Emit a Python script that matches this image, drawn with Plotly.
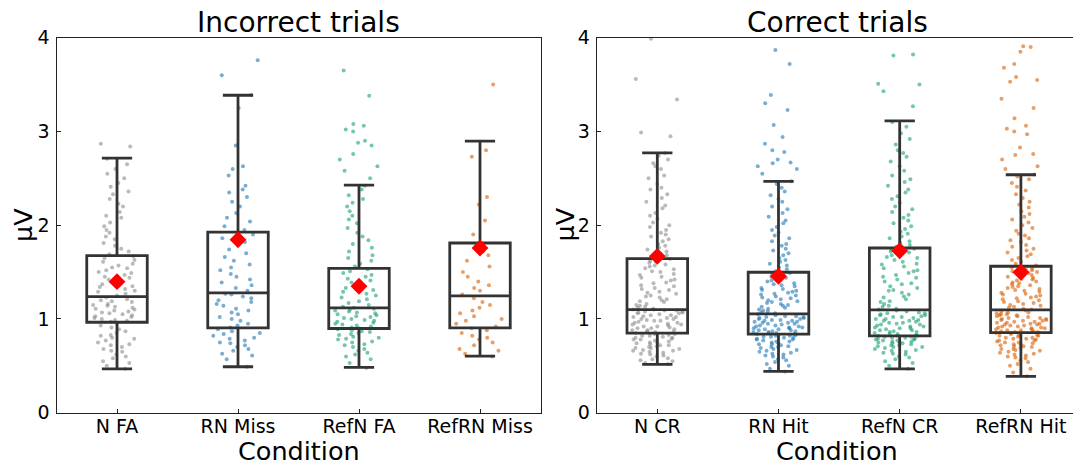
import plotly.graph_objects as go

# ---------------- data ----------------
left_categories = ["N FA", "RN Miss", "RefN FA", "RefRN Miss"]
right_categories = ["N CR", "RN Hit", "RefN CR", "RefRN Hit"]

left_q1 = [0.965, 0.905, 0.898, 0.905]
left_median = [1.239, 1.278, 1.118, 1.246]
left_q3 = [1.675, 1.927, 1.540, 1.810]
left_lower = [0.468, 0.490, 0.483, 0.603]
left_upper = [2.715, 3.386, 2.428, 2.896]
left_mean = [1.398, 1.846, 1.349, 1.757]

right_q1 = [0.848, 0.838, 0.820, 0.855]
right_median = [1.100, 1.054, 1.097, 1.097]
right_q3 = [1.643, 1.498, 1.757, 1.562]
right_lower = [0.515, 0.440, 0.468, 0.387]
right_upper = [2.772, 2.467, 3.113, 2.538]
right_mean = [1.668, 1.455, 1.728, 1.498]

N_FA = [0.47, 0.5, 0.53, 0.55, 0.58, 0.6, 0.62, 0.65, 0.66, 0.68, 0.7, 0.72, 0.73, 0.75, 0.77, 0.79, 0.8, 0.82, 0.83, 0.85, 0.87, 0.89, 0.91, 0.93, 0.95,
        0.97, 0.98, 0.99, 1.0, 1.01, 1.02, 1.03, 1.04, 1.05, 1.06, 1.07, 1.08, 1.09, 1.1, 1.11, 1.12, 1.13, 1.14, 1.15, 1.16, 1.18, 1.19, 1.2, 1.21, 1.23,
        1.25, 1.27, 1.29, 1.3, 1.32, 1.34, 1.35, 1.37, 1.39, 1.4, 1.42, 1.44, 1.45, 1.47, 1.49, 1.5, 1.52, 1.54, 1.55, 1.57, 1.59, 1.61, 1.63, 1.65, 1.67,
        1.69, 1.72, 1.75, 1.78, 1.81, 1.85, 1.88, 1.92, 1.95, 1.99, 2.03, 2.08, 2.1, 2.14, 2.2, 2.23, 2.28, 2.33, 2.36, 2.41, 2.45, 2.5, 2.55, 2.6, 2.65, 2.71, 2.84, 2.87]

RN_Miss = [0.49, 0.57, 0.61, 0.63, 0.66, 0.68, 0.7, 0.72, 0.74, 0.75, 0.77, 0.79, 0.8, 0.82, 0.84, 0.85, 0.87, 0.89,
           0.91, 0.93, 0.95, 0.98, 1.0, 1.02, 1.05, 1.07, 1.09, 1.11, 1.14, 1.16, 1.18, 1.2, 1.22, 1.24, 1.26, 1.27,
           1.3, 1.33, 1.36, 1.39, 1.42, 1.45, 1.48, 1.52, 1.55, 1.58, 1.62, 1.66, 1.7, 1.74, 1.78, 1.82, 1.86, 1.9,
           1.95, 1.99, 2.04, 2.08, 2.13, 2.2, 2.25, 2.3, 2.35, 2.38, 2.42, 2.53, 2.6, 2.63, 2.85, 3.25, 3.39, 3.6, 3.76]

RefN_FA = [0.48, 0.53, 0.57, 0.6, 0.62, 0.64, 0.66, 0.68, 0.7, 0.72, 0.73, 0.75, 0.76, 0.78, 0.79, 0.8, 0.81, 0.83, 0.84, 0.85, 0.86, 0.87, 0.88, 0.89, 0.9,
           0.91, 0.92, 0.93, 0.94, 0.95, 0.96, 0.97, 0.98, 0.99, 1.0, 1.01, 1.02, 1.03, 1.04, 1.05, 1.06, 1.07, 1.08, 1.09, 1.1, 1.11, 1.12,
           1.13, 1.15, 1.17, 1.19, 1.21, 1.23, 1.25, 1.27, 1.29, 1.31, 1.33, 1.35, 1.37, 1.39, 1.41, 1.43, 1.45, 1.47, 1.49, 1.51, 1.53,
           1.56, 1.59, 1.62, 1.65, 1.68, 1.72, 1.76, 1.8, 1.84, 1.88, 1.92, 1.97, 2.02, 2.06, 2.1, 2.15, 2.2, 2.24, 2.28, 2.32, 2.38, 2.42,
           2.5, 2.58, 2.63, 2.7, 2.76, 2.85, 2.88, 2.9, 3.0, 3.02, 3.06, 3.08, 3.38, 3.65]

RefRN_Miss = [0.6, 0.63, 0.66, 0.68, 0.72, 0.75, 0.78, 0.8, 0.82, 0.85, 0.88, 0.9,
              0.92, 0.95, 0.98, 1.0, 1.03, 1.06, 1.09, 1.12, 1.15, 1.18, 1.22,
              1.26, 1.3, 1.33, 1.36, 1.4, 1.45, 1.5, 1.56, 1.62, 1.68, 1.72, 1.78,
              1.9, 2.05, 2.22, 2.3, 2.73, 2.8, 3.5]

N_CR = [0.52, 0.53, 0.55, 0.56, 0.57, 0.58, 0.6, 0.61, 0.62, 0.63, 0.64, 0.65, 0.66, 0.66, 0.67, 0.68, 0.69, 0.69, 0.7, 0.71, 0.72, 0.72, 0.73, 0.74, 0.75, 0.75, 0.76, 0.77, 0.78, 0.78, 0.79, 0.8, 0.8, 0.81, 0.82, 0.82, 0.83, 0.84, 0.84, 0.85,
        0.86, 0.86, 0.87, 0.88, 0.88, 0.89, 0.9, 0.9, 0.91, 0.92, 0.92, 0.93, 0.94, 0.94, 0.95, 0.96, 0.96, 0.97, 0.98, 0.98, 0.99, 1.0, 1.0, 1.01, 1.02, 1.02, 1.03, 1.04, 1.04, 1.05, 1.06, 1.06, 1.07, 1.07, 1.08, 1.08, 1.09, 1.09, 1.1, 1.1,
        1.11, 1.12, 1.13, 1.14, 1.15, 1.16, 1.18, 1.19, 1.2, 1.21, 1.23, 1.24, 1.25, 1.27, 1.28, 1.29, 1.31, 1.32, 1.33, 1.35, 1.36, 1.38, 1.39, 1.41, 1.42, 1.44, 1.45, 1.47, 1.48, 1.5, 1.51, 1.53, 1.54, 1.56, 1.57, 1.58, 1.6, 1.61, 1.62, 1.64,
        1.66, 1.68, 1.7, 1.72, 1.74, 1.76, 1.78, 1.8, 1.83, 1.85, 1.88, 1.9, 1.92, 1.95, 1.98, 2.0, 2.03, 2.07, 2.1, 2.13, 2.18, 2.21, 2.25, 2.29, 2.33, 2.38, 2.4, 2.44, 2.5, 2.53, 2.6, 2.63, 2.66, 2.7, 2.74, 2.77, 2.95, 2.99, 3.34, 3.56, 3.99]

RN_Hit = [0.44, 0.47, 0.5, 0.52, 0.54, 0.56, 0.57, 0.59, 0.6, 0.61, 0.62, 0.63, 0.64, 0.65, 0.66, 0.67, 0.68, 0.69, 0.7, 0.7, 0.71, 0.72, 0.73, 0.73, 0.74, 0.75, 0.76, 0.76, 0.77, 0.78, 0.78, 0.79, 0.8, 0.8, 0.81, 0.81, 0.82, 0.82, 0.83, 0.84,
          0.84, 0.85, 0.85, 0.86, 0.86, 0.87, 0.87, 0.88, 0.88, 0.89, 0.89, 0.9, 0.9, 0.91, 0.91, 0.92, 0.92, 0.93, 0.93, 0.94, 0.95, 0.95, 0.96, 0.96, 0.97, 0.97, 0.98, 0.98, 0.99, 0.99, 1.0, 1.0, 1.01, 1.01, 1.02, 1.02, 1.03, 1.03, 1.04, 1.05,
          1.06, 1.07, 1.08, 1.09, 1.1, 1.11, 1.12, 1.13, 1.14, 1.15, 1.16, 1.17, 1.18, 1.19, 1.2, 1.21, 1.22, 1.23, 1.24, 1.25, 1.26, 1.27, 1.28, 1.29, 1.3, 1.31, 1.32, 1.33, 1.35, 1.36, 1.37, 1.38, 1.4, 1.41, 1.42, 1.44, 1.45, 1.46, 1.48, 1.49,
          1.51, 1.53, 1.55, 1.57, 1.59, 1.61, 1.63, 1.65, 1.68, 1.7, 1.73, 1.75, 1.78, 1.8, 1.83, 1.86, 1.89, 1.92, 1.95, 1.98, 2.02, 2.05, 2.09, 2.13, 2.17, 2.2, 2.25, 2.28, 2.32, 2.36, 2.4, 2.44, 2.47,
          2.55, 2.6, 2.63, 2.66, 2.67, 2.7, 2.78, 2.8, 2.87, 2.94, 3.07, 3.23, 3.3, 3.39, 3.72, 3.87]

RefN_CR = [0.47, 0.5, 0.53, 0.55, 0.57, 0.59, 0.6, 0.62, 0.63, 0.64, 0.65, 0.66, 0.67, 0.68, 0.69, 0.7, 0.7, 0.71, 0.72, 0.72, 0.73, 0.74, 0.74, 0.75, 0.75, 0.76, 0.76, 0.77, 0.77, 0.78, 0.78, 0.79, 0.79, 0.8, 0.8, 0.81, 0.81, 0.82, 0.82, 0.82,
           0.83, 0.84, 0.84, 0.85, 0.86, 0.86, 0.87, 0.88, 0.88, 0.89, 0.9, 0.9, 0.91, 0.92, 0.92, 0.93, 0.94, 0.94, 0.95, 0.96, 0.96, 0.97, 0.98, 0.98, 0.99, 1.0, 1.0, 1.01, 1.02, 1.02, 1.03, 1.04, 1.04, 1.05, 1.06, 1.06, 1.07, 1.08, 1.09, 1.1,
           1.11, 1.13, 1.14, 1.16, 1.18, 1.19, 1.21, 1.23, 1.24, 1.26, 1.28, 1.3, 1.31, 1.33, 1.35, 1.37, 1.38, 1.4, 1.42, 1.44, 1.45, 1.47, 1.49, 1.51, 1.52, 1.54, 1.56, 1.58, 1.59, 1.61, 1.63, 1.65, 1.66, 1.68, 1.7, 1.71, 1.72, 1.73, 1.74, 1.75,
           1.77, 1.79, 1.81, 1.83, 1.86, 1.88, 1.91, 1.93, 1.96, 1.99, 2.02, 2.05, 2.08, 2.11, 2.14, 2.17, 2.2, 2.24, 2.28, 2.31, 2.35, 2.38, 2.42, 2.46, 2.49, 2.53, 2.58, 2.63, 2.68, 2.73, 2.77, 2.8, 2.86, 2.92, 2.98, 3.05, 3.1,
           3.27, 3.43, 3.5, 3.51, 3.81, 3.82]

RefRN_Hit = [0.39, 0.43, 0.47, 0.5, 0.52, 0.54, 0.56, 0.58, 0.59, 0.6, 0.61, 0.62, 0.63, 0.64, 0.65, 0.66, 0.67, 0.68, 0.68, 0.69, 0.7, 0.71, 0.71, 0.72, 0.73, 0.73, 0.74, 0.75, 0.75, 0.76, 0.77, 0.77, 0.78, 0.79, 0.79, 0.8, 0.8, 0.81, 0.82, 0.82, 0.83, 0.83, 0.84, 0.85, 0.85,
             0.86, 0.86, 0.87, 0.87, 0.88, 0.88, 0.89, 0.89, 0.9, 0.9, 0.91, 0.91, 0.92, 0.92, 0.93, 0.93, 0.94, 0.94, 0.95, 0.95, 0.96, 0.96, 0.97, 0.97, 0.98, 0.98, 0.99, 0.99, 1.0, 1.0, 1.01, 1.01, 1.02, 1.03, 1.03, 1.04, 1.04, 1.05, 1.05, 1.06, 1.07, 1.07, 1.08, 1.09, 1.1,
             1.11, 1.12, 1.13, 1.14, 1.15, 1.16, 1.17, 1.18, 1.19, 1.2, 1.21, 1.22, 1.23, 1.24, 1.25, 1.26, 1.27, 1.28, 1.29, 1.3, 1.31, 1.32, 1.33, 1.34, 1.35, 1.36, 1.37, 1.38, 1.39, 1.4, 1.41, 1.42, 1.43, 1.44, 1.45, 1.46, 1.47, 1.48, 1.49, 1.5, 1.51, 1.52, 1.53, 1.54, 1.55,
             1.57, 1.59, 1.61, 1.63, 1.65, 1.67, 1.69, 1.71, 1.73, 1.75, 1.77, 1.79, 1.82, 1.84, 1.86, 1.89, 1.91, 1.94, 1.97, 2.0, 2.03, 2.06, 2.09, 2.12, 2.15, 2.19, 2.22, 2.25, 2.29, 2.33, 2.37, 2.41, 2.45, 2.49, 2.52, 2.54,
             2.6, 2.63, 2.7, 2.75, 2.76, 2.83, 2.97, 3.0, 3.03, 3.06, 3.14, 3.25, 3.35, 3.53, 3.55, 3.58, 3.68, 3.72, 3.85, 3.9, 3.91]

left_points = [N_FA, RN_Miss, RefN_FA, RefRN_Miss]
right_points = [N_CR, RN_Hit, RefN_CR, RefRN_Hit]
group_colors = ["#8c8c8c", "#1f78b4", "#1b9e77", "#d95f02"]

# ---------------- figure ----------------
W, H = 1073, 466
FONT = "DejaVu Sans"
fig = go.Figure()

panels = [
    (left_categories, left_points, left_q1, left_median, left_q3, left_lower, left_upper, left_mean, "x", "y"),
    (right_categories, right_points, right_q1, right_median, right_q3, right_lower, right_upper, right_mean, "x2", "y2"),
]


def add_strip(cat, vals, col, xa, ya):
    if not vals:
        return
    fig.add_trace(go.Box(
        x=[cat] * len(vals), y=vals, xaxis=xa, yaxis=ya,
        boxpoints="all", jitter=1.0, pointpos=0, width=0.42,
        fillcolor="rgba(0,0,0,0)", line=dict(width=0, color="rgba(0,0,0,0)"),
        marker=dict(color=col, size=4, opacity=0.6),
        hoveron="points", showlegend=False,
    ))


for cats, pts, q1, med, q3, lo, hi, mean, xa, ya in panels:
    for cat, vals, col, top in zip(cats, pts, group_colors, hi):
        # points inside the whiskers and the sparse points beyond them are jittered separately
        add_strip(cat, [v for v in vals if v <= top], col, xa, ya)
        add_strip(cat, [v for v in vals if v > top], col, xa, ya)
    fig.add_trace(go.Box(
        x=cats, q1=q1, median=med, q3=q3, lowerfence=lo, upperfence=hi,
        xaxis=xa, yaxis=ya, boxpoints=False, width=0.5, whiskerwidth=0.5,
        fillcolor="rgba(0,0,0,0)", line=dict(color="#333333", width=2.8),
        showlegend=False,
    ))
    fig.add_trace(go.Scatter(
        x=cats, y=mean, xaxis=xa, yaxis=ya, mode="markers",
        marker=dict(symbol="diamond", color="red", size=13, line=dict(width=0)),
        showlegend=False,
    ))

y_dom = [(H - 412.7) / H, (H - 37.7) / H]
x1_dom = [56.5 / W, 540.5 / W]
x2_dom = [596.7 / W, 1.0]

tickfont = dict(family=FONT, size=19, color="black")
common_x = dict(type="category", showgrid=False, zeroline=False, showline=True,
                linecolor="#222", linewidth=1, ticks="inside", ticklen=4, tickwidth=1,
                tickcolor="#222", tickfont=tickfont, mirror=True, automargin=False,
                ticklabelstandoff=-4)
common_y = dict(range=[0, 4], tickvals=[0, 1, 2, 3, 4], showgrid=False, zeroline=False,
                showline=True, linecolor="#222", linewidth=1, ticks="inside", ticklen=4,
                tickwidth=1, tickcolor="#222", tickfont=tickfont, ticklabelstandoff=2,
                automargin=False)

fig.update_layout(
    width=W, height=H, margin=dict(l=0, r=0, t=0, b=0, autoexpand=False),
    paper_bgcolor="white", plot_bgcolor="white", boxmode="overlay", showlegend=False,
    font=dict(family=FONT, color="black"),
    xaxis=dict(common_x, domain=x1_dom, anchor="y", range=[-0.5, 3.5],
               categoryorder="array", categoryarray=left_categories),
    yaxis=dict(common_y, domain=y_dom, anchor="x", mirror=True),
    xaxis2=dict(common_x, domain=x2_dom, anchor="y2", range=[-0.5, 3.43],
                categoryorder="array", categoryarray=right_categories),
    yaxis2=dict(common_y, domain=y_dom, anchor="x2", mirror=False),
)

ann = []
for cx, title in [(298.5, "Incorrect trials"), (837, "Correct trials")]:
    ann.append(dict(text=title, x=cx / W, y=1 - 22.2 / H, xref="paper", yref="paper",
                    xanchor="center", yanchor="middle", showarrow=False,
                    font=dict(family=FONT, size=28, color="black")))
    ann.append(dict(text="Condition", x=cx / W, y=1 - 450.5 / H, xref="paper", yref="paper",
                    xanchor="center", yanchor="middle", showarrow=False,
                    font=dict(family=FONT, size=25.5, color="black")))
for cx in [23, 564.5]:
    ann.append(dict(text="µV", x=cx / W, y=1 - 225 / H, xref="paper", yref="paper",
                    xanchor="center", yanchor="middle", showarrow=False, textangle=-90,
                    font=dict(family=FONT, size=25.5, color="black")))
fig.update_layout(annotations=ann)

fig.write_html("out.html")
